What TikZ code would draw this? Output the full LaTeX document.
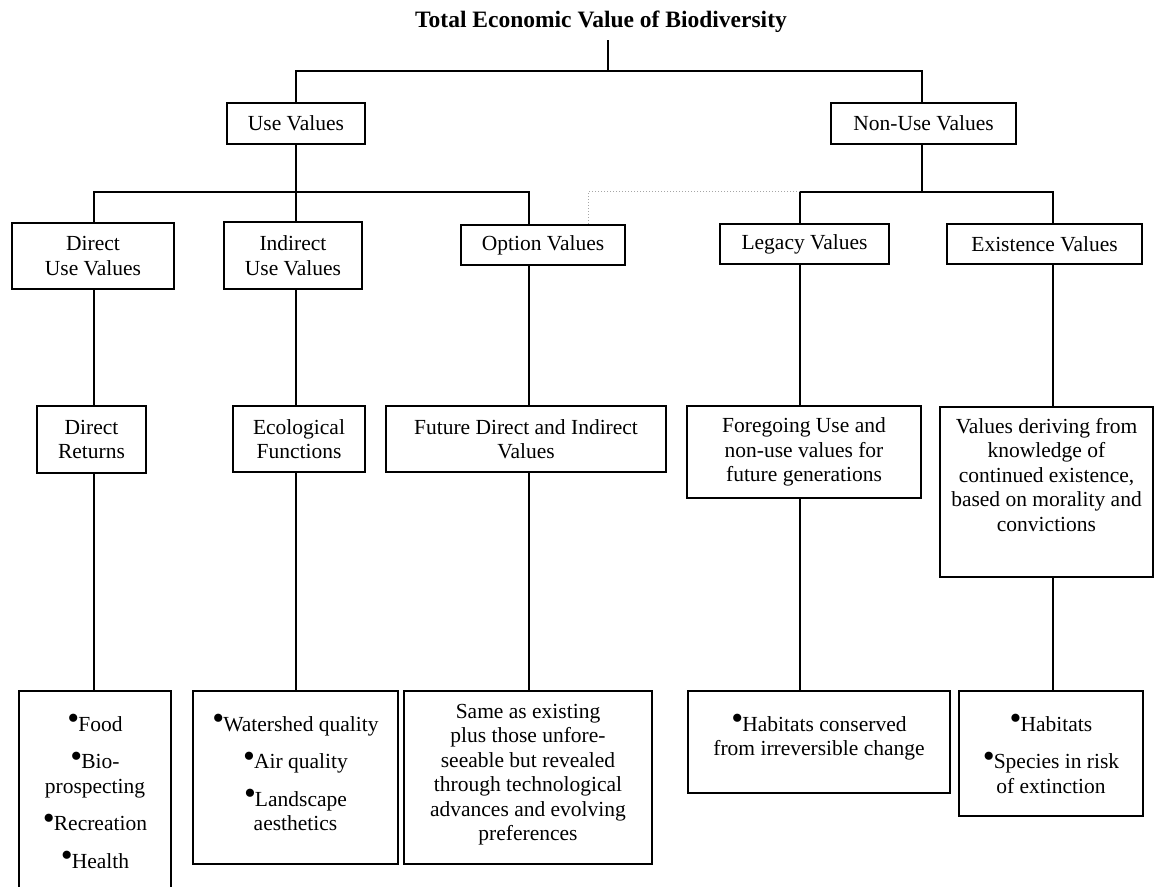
\documentclass[tikz,border=0pt]{standalone}
\usepackage{fontspec}
\setmainfont{Liberation Serif}
\newcommand{\bodyf}{\fontsize{21.5}{24.5}\selectfont}
\newcommand{\fst}{\rule{0pt}{15pt}}
\newcommand{\bu}{\raisebox{1.5pt}{\fontsize{34}{24}\selectfont •}\hspace{-1pt}}
\tikzset{
  bx/.style={draw, line width=1.7pt, inner sep=0pt, align=center, font=\bodyf},
  txt/.style={anchor=north, inner sep=0pt, align=center, font=\bodyf},
  vline/.style={line width=1.6pt},
  hline/.style={line width=2pt},
  dotline/.style={gray!70, line width=1pt, dotted}
}
\begin{document}
\begin{tikzpicture}[x=1pt,y=-1pt]
\useasboundingbox (0,0) rectangle (1156,886);
\clip (0,0) rectangle (1156,886);
% columns
\coordinate (cA) at (94,0);
\coordinate (cB) at (296,0);
\coordinate (cC) at (529,0);
\coordinate (cO) at (588.5,0);
\coordinate (cD) at (800,0);
\coordinate (cN) at (922,0);
\coordinate (cE) at (1053,0);
\coordinate (h1) at (0,191.7);
\coordinate (t0) at (608,40);
\coordinate (j0) at (608,70.7);

% title
\node[inner sep=0pt, font=\fontsize{23.5}{26}\selectfont\bfseries] (title) at (601,22) {Total Economic Value of Biodiversity};

% level 1
\node[bx, minimum width=138pt, minimum height=41pt] (use) at (296,123.5) {Use Values};
\node[bx, minimum width=185pt, minimum height=41pt] (nonuse) at (923.5,123.5) {Non-Use Values};

% level 2
\node[bx, minimum width=162pt, minimum height=66pt] (duv) at (93,256) {Direct\\Use Values};
\node[bx, minimum width=138pt, minimum height=67pt] (iuv) at (293,255.5) {Indirect\\Use Values};
\node[bx, minimum width=164pt, minimum height=40pt] (opt) at (543,245) {Option Values};
\node[bx, minimum width=169pt, minimum height=40pt] (leg) at (804.5,244) {Legacy Values};
\node[bx, minimum width=195pt, minimum height=40pt] (exv) at (1044.5,244) {Existence Values};

% level 3
\node[bx, minimum width=109pt, minimum height=67pt] (dr) at (91.5,439.5) {Direct\\Returns};
\node[bx, minimum width=132pt, minimum height=66pt] (ef) at (299,439) {Ecological\\Functions};
\node[bx, minimum width=280pt, minimum height=66pt] (fdv) at (526,439) {Future Direct and Indirect\\Values};
\node[bx, minimum width=234pt, minimum height=92pt] (fug) at (804,452) {Foregoing Use and\\non-use values for\\future generations};
\node[bx, minimum width=213pt, minimum height=170pt] (vdk) at (1046.5,492) {};
\node[txt] (vdkt) at ([yshift=-12pt]vdk.north) {\fst Values deriving from\\knowledge of\\continued existence,\\based on morality and\\convictions};

% level 4
\node[bx, minimum width=152pt, minimum height=209pt] (bio) at (95,795.5) {};
\node[txt] (biot) at ([yshift=-24pt]bio.north) {\fst\bu Food\\[13pt]\bu Bio-\\prospecting\\[13pt]\bu Recreation\\[13pt]\bu Health};
\node[bx, minimum width=205pt, minimum height=173pt] (eco) at (295.5,777.5) {};
\node[txt] (ecot) at ([yshift=-24pt]eco.north) {\fst\bu Watershed quality\\[13pt]\bu Air quality\\[13pt]\bu Landscape\\aesthetics};
\node[bx, minimum width=248pt, minimum height=173pt] (same) at (528,777.5) {};
\node[txt] (samet) at ([yshift=-13pt]same.north) {\fst Same as existing\\plus those unfore-\\seeable but revealed\\through technological\\advances and evolving\\preferences};
\node[bx, minimum width=262pt, minimum height=102pt] (hab) at (819,742) {};
\node[txt] (habt) at ([yshift=-24pt]hab.north) {\fst\bu Habitats conserved\\from irreversible change};
\node[bx, minimum width=184pt, minimum height=125pt] (exl) at (1051,753.5) {};
\node[txt] (exlt) at ([yshift=-24pt]exl.north) {\fst\bu Habitats\\[13pt]\bu Species in risk\\of extinction};

% connectors top
\draw[vline] (t0) -- (j0);
\draw[hline] (use.north) -- (use.north |- j0) -- (cN |- j0) -- (nonuse.north -| cN);
\draw[vline] (use.south -| cB) -- (h1 -| cB);
\draw[vline] (nonuse.south -| cN) -- (h1 -| cN);
% left group
\draw[hline] (duv.north -| cA) -- (h1 -| cA) -- (h1 -| cC) -- (opt.north -| cC);
\draw[vline] (h1 -| cB) -- (iuv.north -| cB);
% right group
\draw[hline] (leg.north -| cD) -- (h1 -| cD) -- (h1 -| cE) -- (exv.north -| cE);
% dotted link
\draw[dotline] (h1 -| cD) -- (h1 -| cO) -- (opt.north -| cO);
% vertical chains
\draw[vline] (duv.south -| cA) -- (dr.north -| cA);
\draw[vline] (dr.south -| cA) -- (bio.north -| cA);
\draw[vline] (iuv.south -| cB) -- (ef.north -| cB);
\draw[vline] (ef.south -| cB) -- (eco.north -| cB);
\draw[vline] (opt.south -| cC) -- (fdv.north -| cC);
\draw[vline] (fdv.south -| cC) -- (same.north -| cC);
\draw[vline] (leg.south -| cD) -- (fug.north -| cD);
\draw[vline] (fug.south -| cD) -- (hab.north -| cD);
\draw[vline] (exv.south -| cE) -- (vdk.north -| cE);
\draw[vline] (vdk.south -| cE) -- (exl.north -| cE);
\end{tikzpicture}
\end{document}
